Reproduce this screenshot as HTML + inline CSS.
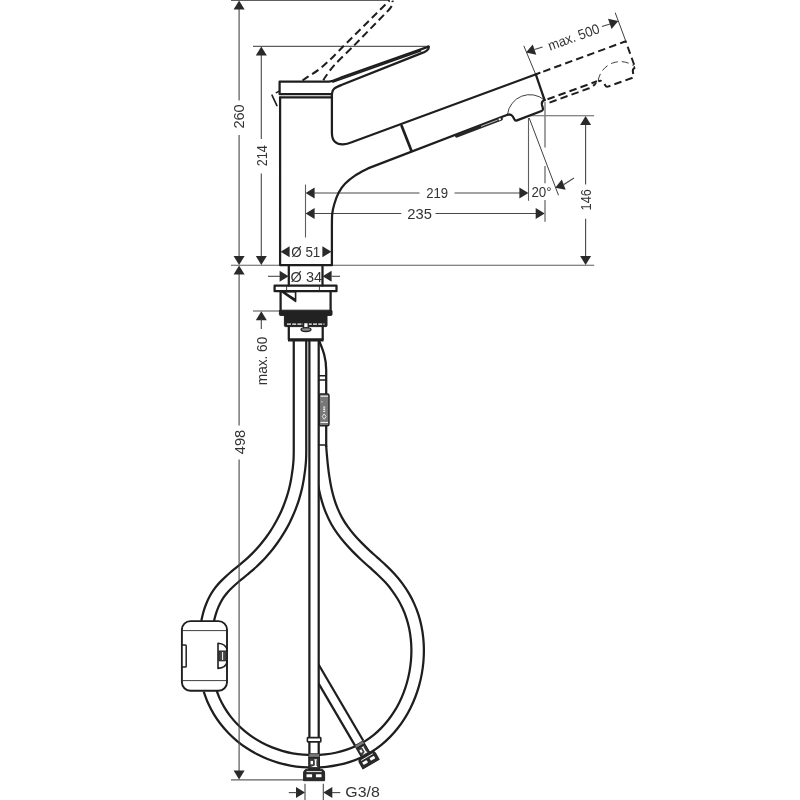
<!DOCTYPE html>
<html lang="en"><head><meta charset="utf-8"><title>Dimensional drawing</title>
<style>
html,body{margin:0;padding:0;background:#fff;}
body{width:800px;height:800px;overflow:hidden;}
svg{display:block;will-change:transform;filter:blur(0.35px);}
text{font-family:"Liberation Sans",sans-serif;fill:#333;}
.o{fill:none;stroke:#1e1e1e;stroke-width:2.25;stroke-linecap:round;stroke-linejoin:round;}
.ow{fill:#fff;stroke:#1e1e1e;stroke-width:1.9;}
.ob{fill:none;stroke:#1e1e1e;stroke-width:2.25;stroke-linecap:butt;stroke-linejoin:round;}
.o2{fill:none;stroke:#1e1e1e;stroke-width:1.6;stroke-linecap:round;stroke-linejoin:round;}
.o3{fill:none;stroke:#1e1e1e;stroke-width:2.7;stroke-linecap:butt;}
.o4{fill:none;stroke:#1e1e1e;stroke-width:3.2;stroke-linecap:butt;}
.d{fill:none;stroke:#484848;stroke-width:1.1;}
.e{fill:none;stroke:#5e5e5e;stroke-width:1.1;}
.e2{fill:none;stroke:#777;stroke-width:1.4;}
.t{fill:none;stroke:#2a2a2a;stroke-width:0.9;}
.a{fill:#2a2a2a;stroke:none;}
.f{fill:#222;stroke:#222;stroke-width:1;stroke-linejoin:round;}
.w{fill:none;stroke:#fff;stroke-width:1;}
.w2{fill:none;stroke:#fff;stroke-width:0.8;}
.wdot{fill:none;stroke:#eee;stroke-width:2;stroke-dasharray:1.3 0.8;}
.wd{fill:none;stroke:#fff;stroke-width:1.1;stroke-dasharray:4 1.2;}
.dash{fill:none;stroke:#1e1e1e;stroke-width:2;stroke-dasharray:7.5 4.2;stroke-linecap:butt;stroke-linejoin:round;}
.tdash{fill:none;stroke:#2a2a2a;stroke-width:0.9;stroke-dasharray:7 4;}
</style></head>
<body>
<svg width="800" height="800" viewBox="0 0 800 800">
<rect x="0" y="0" width="800" height="800" fill="#fff"/>
<path d="M293.75,339.00 L293.75,339.94 L293.75,341.95 L293.75,343.95 L293.75,345.95 L293.75,347.95 L293.75,349.94 L293.75,351.93 L293.75,353.91 L293.75,355.89 L293.75,357.87 L293.75,359.85 L293.75,361.82 L293.75,363.79 L293.75,365.76 L293.75,367.73 L293.75,369.70 L293.75,371.66 L293.75,373.63 L293.75,375.59 L293.75,377.55 L293.75,379.51 L293.75,381.48 L293.75,383.44 L293.75,385.40 L293.75,387.36 L293.75,389.32 L293.75,391.28 L293.75,393.25 L293.75,395.21 L293.75,397.17 L293.75,399.14 L293.75,401.11 L293.75,403.08 L293.75,405.05 L293.75,407.02 L293.75,409.00 L293.75,410.98 L293.75,412.96 L293.75,414.95 L293.75,416.93 L293.75,418.92 L293.75,420.91 L293.75,422.90 L293.75,424.89 L293.75,426.88 L293.75,428.88 L293.75,430.87 L293.75,432.87 L293.75,434.86 L293.75,436.85 L293.75,438.85 L293.75,440.85 L293.75,442.85 L293.76,444.84 L293.76,446.83 L293.77,448.80 L293.76,450.76 L293.75,452.70 L293.71,454.63 L293.66,456.54 L293.59,458.44 L293.49,460.32 L293.36,462.20 L293.20,464.06 L293.01,465.93 L292.79,467.81 L292.54,469.70 L292.27,471.61 L291.99,473.55 L291.71,475.45 L291.42,477.32 L291.10,479.18 L290.76,481.03 L290.40,482.87 L290.01,484.71 L289.59,486.54 L289.15,488.36 L288.68,490.18 L288.19,491.99 L287.67,493.80 L287.13,495.60 L286.56,497.39 L285.97,499.18 L285.35,500.96 L284.71,502.73 L284.04,504.49 L283.35,506.24 L282.63,507.98 L281.90,509.72 L281.14,511.45 L280.35,513.16 L279.54,514.87 L278.71,516.56 L277.86,518.25 L276.98,519.92 L276.08,521.58 L275.16,523.24 L274.21,524.87 L273.25,526.50 L272.26,528.12 L271.25,529.72 L270.22,531.31 L269.17,532.88 L268.10,534.44 L267.00,535.99 L265.89,537.52 L264.76,539.04 L263.60,540.55 L262.43,542.03 L261.23,543.51 L260.02,544.96 L258.78,546.40 L257.53,547.83 L256.26,549.24 L254.97,550.63 L253.66,552.00 L252.33,553.36 L250.98,554.69 L249.62,556.01 L248.24,557.31 L246.83,558.60 L245.41,559.86 L243.96,561.12 L242.50,562.37 L241.01,563.62 L239.50,564.87 L237.98,566.12 L236.45,567.38 L234.91,568.64 L233.37,569.92 L231.83,571.21 L230.28,572.51 L228.75,573.84 L227.22,575.19 L225.70,576.56 L224.19,577.97 L222.71,579.41 L221.24,580.88 L219.81,582.40 L218.40,583.96 L217.02,585.57 L215.68,587.22 L214.38,588.93 L213.13,590.70 L211.94,592.52 L210.80,594.39 L209.72,596.31 L208.71,598.26 L207.76,600.24 L206.87,602.25 L206.04,604.28 L205.27,606.34 L204.54,608.41 L203.88,610.50 L203.26,612.60 L202.69,614.71 L202.17,616.82 L201.70,618.94 L201.29,620.99 L213.55,623.45 L213.93,621.53 L214.34,619.67 L214.80,617.82 L215.29,615.99 L215.82,614.17 L216.40,612.37 L217.02,610.60 L217.67,608.86 L218.37,607.15 L219.12,605.47 L219.90,603.84 L220.73,602.24 L221.59,600.70 L222.50,599.20 L223.46,597.74 L224.47,596.32 L225.52,594.93 L226.63,593.56 L227.78,592.22 L228.98,590.89 L230.21,589.59 L231.49,588.30 L232.81,587.03 L234.16,585.76 L235.55,584.51 L236.96,583.26 L238.40,582.02 L239.87,580.78 L241.36,579.53 L242.86,578.29 L244.39,577.04 L245.92,575.78 L247.46,574.51 L249.01,573.22 L250.57,571.92 L252.12,570.59 L253.67,569.25 L255.21,567.87 L256.74,566.48 L258.24,565.06 L259.73,563.62 L261.20,562.16 L262.64,560.69 L264.07,559.19 L265.48,557.68 L266.86,556.15 L268.22,554.60 L269.57,553.03 L270.89,551.45 L272.19,549.84 L273.46,548.22 L274.72,546.59 L275.95,544.94 L277.17,543.27 L278.35,541.59 L279.52,539.89 L280.66,538.18 L281.78,536.45 L282.88,534.71 L283.96,532.95 L285.01,531.18 L286.03,529.40 L287.03,527.60 L288.01,525.80 L288.97,523.97 L289.90,522.14 L290.80,520.29 L291.68,518.44 L292.54,516.57 L293.37,514.69 L294.17,512.80 L294.95,510.90 L295.70,508.99 L296.43,507.07 L297.13,505.14 L297.80,503.20 L298.45,501.25 L299.07,499.30 L299.66,497.33 L300.23,495.36 L300.77,493.38 L301.28,491.39 L301.76,489.40 L302.22,487.39 L302.64,485.39 L303.04,483.38 L303.41,481.36 L303.75,479.35 L304.07,477.33 L304.36,475.34 L304.65,473.37 L304.93,471.38 L305.19,469.35 L305.44,467.30 L305.65,465.23 L305.82,463.16 L305.97,461.08 L306.08,459.01 L306.16,456.95 L306.21,454.90 L306.24,452.86 L306.26,450.83 L306.27,448.81 L306.26,446.81 L306.26,444.81 L306.25,442.82 L306.25,440.84 L306.25,438.85 L306.25,436.85 L306.25,434.86 L306.25,432.87 L306.25,430.87 L306.25,428.88 L306.25,426.88 L306.25,424.89 L306.25,422.90 L306.25,420.91 L306.25,418.92 L306.25,416.93 L306.25,414.95 L306.25,412.96 L306.25,410.98 L306.25,409.00 L306.25,407.02 L306.25,405.05 L306.25,403.08 L306.25,401.11 L306.25,399.14 L306.25,397.17 L306.25,395.21 L306.25,393.25 L306.25,391.28 L306.25,389.32 L306.25,387.36 L306.25,385.40 L306.25,383.44 L306.25,381.48 L306.25,379.51 L306.25,377.55 L306.25,375.59 L306.25,373.63 L306.25,371.66 L306.25,369.70 L306.25,367.73 L306.25,365.76 L306.25,363.79 L306.25,361.82 L306.25,359.85 L306.25,357.87 L306.25,355.89 L306.25,353.91 L306.25,351.93 L306.25,349.94 L306.25,347.95 L306.25,345.95 L306.25,343.95 L306.25,341.95 L306.25,339.94 L306.25,339.00 Z" fill="#fff" stroke="none"/><path class="ob" d="M293.75,339.00 C293.75,339.83 293.75,342.13 293.75,343.95 C293.75,345.78 293.75,347.95 293.75,349.94 C293.75,351.93 293.75,353.91 293.75,355.89 C293.75,357.87 293.75,359.85 293.75,361.82 C293.75,363.80 293.75,365.76 293.75,367.73 C293.75,369.70 293.75,371.66 293.75,373.63 C293.75,375.59 293.75,377.55 293.75,379.51 C293.75,381.48 293.75,383.44 293.75,385.40 C293.75,387.36 293.75,389.32 293.75,391.28 C293.75,393.25 293.75,395.21 293.75,397.17 C293.75,399.14 293.75,401.11 293.75,403.08 C293.75,405.05 293.75,407.02 293.75,409.00 C293.75,410.98 293.75,412.96 293.75,414.95 C293.75,416.93 293.75,418.92 293.75,420.91 C293.75,422.90 293.75,424.89 293.75,426.88 C293.75,428.88 293.75,430.87 293.75,432.87 C293.75,434.86 293.75,436.85 293.75,438.85 C293.75,440.85 293.76,442.86 293.76,444.84 C293.76,446.83 293.78,448.81 293.76,450.76 C293.75,452.71 293.73,454.64 293.66,456.54 C293.60,458.45 293.51,460.32 293.36,462.20 C293.21,464.07 293.02,465.91 292.79,467.81 C292.56,469.70 292.27,471.65 291.99,473.55 C291.71,475.44 291.43,477.32 291.10,479.18 C290.77,481.04 290.41,482.88 290.01,484.71 C289.60,486.54 289.16,488.37 288.68,490.18 C288.20,492.00 287.68,493.80 287.13,495.60 C286.57,497.40 285.98,499.18 285.35,500.96 C284.72,502.73 284.05,504.49 283.35,506.24 C282.65,507.99 281.91,509.72 281.14,511.45 C280.36,513.17 279.55,514.87 278.71,516.56 C277.87,518.25 276.99,519.93 276.08,521.58 C275.17,523.24 274.23,524.88 273.25,526.50 C272.27,528.12 271.26,529.73 270.22,531.31 C269.18,532.89 268.11,534.45 267.00,535.99 C265.90,537.53 264.77,539.05 263.60,540.55 C262.44,542.04 261.24,543.52 260.02,544.96 C258.79,546.41 257.54,547.84 256.26,549.24 C254.98,550.63 253.67,552.01 252.33,553.36 C250.99,554.70 249.63,556.02 248.24,557.31 C246.84,558.61 245.42,559.86 243.96,561.12 C242.51,562.38 241.01,563.62 239.50,564.87 C237.99,566.13 236.45,567.37 234.91,568.64 C233.38,569.92 231.82,571.19 230.28,572.51 C228.75,573.83 227.21,575.17 225.70,576.56 C224.19,577.96 222.69,579.38 221.24,580.88 C219.80,582.38 218.37,583.93 217.02,585.57 C215.67,587.20 214.35,588.91 213.13,590.70 C211.92,592.49 210.77,594.38 209.72,596.31 C208.68,598.23 207.74,600.23 206.87,602.25 C206.01,604.27 205.24,606.34 204.54,608.41 C203.85,610.49 203.23,612.61 202.69,614.71 C202.15,616.81 201.52,619.94 201.29,620.99"/><path class="ob" d="M306.25,339.00 C306.25,339.83 306.25,342.13 306.25,343.95 C306.25,345.78 306.25,347.95 306.25,349.94 C306.25,351.93 306.25,353.91 306.25,355.89 C306.25,357.87 306.25,359.85 306.25,361.82 C306.25,363.80 306.25,365.76 306.25,367.73 C306.25,369.70 306.25,371.66 306.25,373.63 C306.25,375.59 306.25,377.55 306.25,379.51 C306.25,381.48 306.25,383.44 306.25,385.40 C306.25,387.36 306.25,389.32 306.25,391.28 C306.25,393.25 306.25,395.21 306.25,397.17 C306.25,399.14 306.25,401.11 306.25,403.08 C306.25,405.05 306.25,407.02 306.25,409.00 C306.25,410.98 306.25,412.96 306.25,414.95 C306.25,416.93 306.25,418.92 306.25,420.91 C306.25,422.90 306.25,424.89 306.25,426.88 C306.25,428.88 306.25,430.87 306.25,432.87 C306.25,434.86 306.25,436.86 306.25,438.85 C306.25,440.84 306.26,442.81 306.26,444.81 C306.26,446.81 306.28,448.81 306.26,450.83 C306.24,452.85 306.23,454.90 306.16,456.95 C306.08,459.01 305.98,461.09 305.82,463.16 C305.66,465.22 305.44,467.32 305.19,469.35 C304.95,471.38 304.66,473.34 304.36,475.34 C304.07,477.34 303.77,479.35 303.41,481.36 C303.05,483.37 302.66,485.39 302.22,487.39 C301.77,489.40 301.29,491.39 300.77,493.38 C300.24,495.36 299.68,497.34 299.07,499.30 C298.46,501.26 297.81,503.21 297.13,505.14 C296.44,507.07 295.71,508.99 294.95,510.90 C294.18,512.80 293.38,514.70 292.54,516.57 C291.69,518.44 290.81,520.30 289.90,522.14 C288.98,523.98 288.03,525.80 287.03,527.60 C286.04,529.41 285.02,531.19 283.96,532.95 C282.89,534.71 281.80,536.46 280.66,538.18 C279.53,539.90 278.37,541.60 277.17,543.27 C275.97,544.95 274.73,546.60 273.46,548.22 C272.20,549.85 270.90,551.45 269.57,553.03 C268.24,554.61 266.87,556.16 265.48,557.68 C264.08,559.20 262.65,560.70 261.20,562.16 C259.74,563.63 258.25,565.07 256.74,566.48 C255.22,567.88 253.67,569.26 252.12,570.59 C250.58,571.93 249.01,573.22 247.46,574.51 C245.92,575.79 244.38,577.04 242.86,578.29 C241.35,579.54 239.85,580.77 238.40,582.02 C236.95,583.26 235.53,584.50 234.16,585.76 C232.80,587.02 231.47,588.29 230.21,589.59 C228.96,590.89 227.75,592.20 226.63,593.56 C225.50,594.92 224.44,596.30 223.46,597.74 C222.48,599.19 221.57,600.68 220.73,602.24 C219.88,603.81 219.10,605.46 218.37,607.15 C217.65,608.84 217.00,610.59 216.40,612.37 C215.80,614.15 215.27,615.98 214.80,617.82 C214.32,619.67 213.75,622.51 213.55,623.45"/>
<path d="M203.72,691.65 L204.48,693.98 L205.31,696.35 L206.20,698.69 L207.14,701.00 L208.13,703.27 L209.17,705.50 L210.25,707.71 L211.39,709.87 L212.57,712.00 L213.80,714.10 L215.07,716.16 L216.39,718.18 L217.75,720.17 L219.15,722.12 L220.59,724.03 L222.07,725.90 L223.60,727.74 L225.16,729.54 L226.76,731.30 L228.39,733.02 L230.06,734.70 L231.77,736.34 L233.51,737.95 L235.29,739.51 L237.10,741.04 L238.93,742.52 L240.80,743.97 L242.70,745.37 L244.63,746.73 L246.59,748.05 L248.57,749.33 L250.58,750.57 L252.62,751.77 L254.68,752.93 L256.76,754.04 L258.87,755.11 L261.00,756.14 L263.15,757.13 L265.32,758.08 L267.51,758.98 L269.72,759.84 L271.95,760.65 L274.20,761.42 L276.46,762.15 L278.74,762.83 L281.03,763.47 L283.34,764.07 L285.66,764.62 L288.00,765.12 L290.34,765.58 L292.70,766.00 L295.06,766.37 L297.44,766.69 L299.83,766.97 L302.22,767.20 L304.62,767.38 L307.02,767.52 L309.43,767.61 L311.85,767.65 L314.27,767.65 L316.69,767.60 L319.11,767.50 L321.53,767.35 L323.95,767.16 L326.36,766.91 L328.77,766.62 L331.17,766.28 L333.57,765.90 L335.95,765.46 L338.33,764.97 L340.69,764.44 L343.04,763.86 L345.38,763.23 L347.70,762.54 L350.00,761.81 L352.28,761.03 L354.54,760.20 L356.78,759.32 L359.00,758.39 L361.19,757.40 L363.36,756.37 L365.49,755.29 L367.60,754.15 L369.67,752.96 L371.71,751.72 L373.71,750.44 L375.68,749.11 L377.61,747.73 L379.51,746.31 L381.37,744.85 L383.19,743.34 L384.97,741.79 L386.72,740.20 L388.43,738.57 L390.10,736.90 L391.73,735.20 L393.33,733.46 L394.89,731.68 L396.40,729.87 L397.88,728.03 L399.32,726.15 L400.73,724.24 L402.09,722.30 L403.41,720.34 L404.69,718.34 L405.94,716.31 L407.14,714.26 L408.31,712.19 L409.43,710.09 L410.51,707.96 L411.55,705.81 L412.56,703.64 L413.52,701.45 L414.44,699.24 L415.31,697.01 L416.15,694.76 L416.95,692.49 L417.70,690.20 L418.41,687.90 L419.08,685.59 L419.71,683.26 L420.29,680.92 L420.83,678.57 L421.33,676.20 L421.78,673.83 L422.19,671.45 L422.56,669.06 L422.88,666.66 L423.16,664.26 L423.40,661.85 L423.59,659.44 L423.73,657.03 L423.83,654.62 L423.89,652.21 L423.90,649.79 L423.86,647.38 L423.78,644.98 L423.65,642.57 L423.47,640.17 L423.25,637.78 L422.98,635.40 L422.66,633.02 L422.29,630.65 L421.88,628.29 L421.41,625.95 L420.90,623.62 L420.34,621.30 L419.73,618.99 L419.07,616.70 L418.36,614.43 L417.60,612.17 L416.79,609.94 L415.93,607.73 L415.02,605.54 L414.06,603.38 L413.06,601.24 L412.02,599.12 L410.92,597.03 L409.79,594.96 L408.61,592.92 L407.38,590.90 L406.12,588.91 L404.81,586.95 L403.46,585.01 L402.08,583.10 L400.65,581.22 L399.19,579.36 L397.69,577.54 L396.15,575.74 L394.58,573.97 L392.97,572.23 L391.33,570.52 L389.66,568.85 L387.98,567.21 L386.28,565.60 L384.57,564.02 L382.86,562.46 L381.15,560.91 L379.44,559.39 L377.74,557.87 L376.05,556.36 L374.37,554.86 L372.71,553.35 L371.05,551.83 L369.41,550.32 L367.79,548.79 L366.18,547.26 L364.60,545.73 L363.03,544.18 L361.48,542.63 L359.96,541.06 L358.47,539.49 L357.00,537.90 L355.56,536.30 L354.15,534.68 L352.77,533.06 L351.42,531.41 L350.11,529.75 L348.84,528.08 L347.60,526.38 L346.40,524.67 L345.24,522.94 L344.13,521.18 L343.05,519.41 L342.02,517.61 L341.03,515.79 L340.09,513.93 L339.19,512.05 L338.33,510.14 L337.51,508.19 L336.73,506.22 L335.99,504.22 L335.28,502.19 L334.61,500.14 L333.98,498.07 L333.38,495.97 L332.81,493.86 L332.28,491.72 L331.77,489.57 L331.30,487.41 L330.85,485.23 L330.43,483.04 L330.04,480.84 L329.67,478.63 L329.32,476.41 L329.00,474.19 L328.70,471.97 L328.41,469.74 L328.15,467.51 L327.90,465.29 L327.66,463.07 L327.44,460.85 L327.23,458.64 L327.03,456.44 L326.84,454.25 L326.66,452.07 L326.49,449.90 L326.32,447.75 L326.15,445.61 L313.69,446.57 L313.86,448.72 L314.03,450.89 L314.20,453.09 L314.39,455.30 L314.58,457.54 L314.78,459.79 L315.00,462.06 L315.23,464.35 L315.47,466.65 L315.73,468.96 L316.01,471.28 L316.31,473.60 L316.62,475.94 L316.96,478.28 L317.33,480.62 L317.72,482.97 L318.14,485.31 L318.59,487.66 L319.07,490.00 L319.58,492.34 L320.13,494.67 L320.71,496.99 L321.33,499.31 L321.99,501.61 L322.69,503.91 L323.44,506.19 L324.22,508.45 L325.06,510.70 L325.94,512.92 L326.87,515.13 L327.85,517.31 L328.88,519.47 L329.97,521.60 L331.10,523.69 L332.28,525.75 L333.51,527.78 L334.78,529.77 L336.09,531.73 L337.43,533.65 L338.82,535.55 L340.23,537.41 L341.68,539.25 L343.16,541.05 L344.67,542.84 L346.21,544.59 L347.76,546.32 L349.35,548.03 L350.95,549.72 L352.57,551.39 L354.21,553.04 L355.86,554.67 L357.53,556.28 L359.21,557.88 L360.89,559.46 L362.59,561.03 L364.29,562.59 L366.00,564.14 L367.71,565.67 L369.42,567.20 L371.12,568.71 L372.80,570.22 L374.47,571.72 L376.11,573.22 L377.73,574.72 L379.32,576.23 L380.87,577.74 L382.39,579.26 L383.87,580.81 L385.32,582.37 L386.73,583.96 L388.11,585.57 L389.45,587.20 L390.76,588.86 L392.04,590.55 L393.27,592.25 L394.48,593.98 L395.64,595.73 L396.76,597.50 L397.85,599.29 L398.90,601.10 L399.91,602.93 L400.87,604.79 L401.80,606.66 L402.69,608.55 L403.53,610.46 L404.33,612.39 L405.09,614.34 L405.80,616.31 L406.47,618.29 L407.10,620.30 L407.68,622.32 L408.22,624.36 L408.72,626.42 L409.18,628.50 L409.59,630.59 L409.96,632.69 L410.29,634.80 L410.57,636.93 L410.81,639.07 L411.01,641.21 L411.17,643.37 L411.29,645.53 L411.36,647.70 L411.40,649.87 L411.39,652.04 L411.34,654.22 L411.25,656.40 L411.12,658.58 L410.94,660.75 L410.73,662.93 L410.48,665.10 L410.19,667.27 L409.86,669.43 L409.48,671.59 L409.07,673.74 L408.62,675.88 L408.13,678.01 L407.60,680.13 L407.04,682.23 L406.43,684.32 L405.79,686.40 L405.11,688.46 L404.39,690.51 L403.64,692.54 L402.85,694.55 L402.02,696.54 L401.16,698.51 L400.26,700.46 L399.32,702.39 L398.35,704.30 L397.34,706.19 L396.30,708.04 L395.22,709.88 L394.11,711.69 L392.97,713.47 L391.79,715.22 L390.57,716.95 L389.33,718.64 L388.05,720.31 L386.74,721.94 L385.40,723.55 L384.02,725.12 L382.61,726.65 L381.17,728.15 L379.70,729.62 L378.20,731.05 L376.67,732.45 L375.11,733.80 L373.51,735.12 L371.89,736.40 L370.23,737.64 L368.55,738.84 L366.84,740.00 L365.10,741.12 L363.33,742.19 L361.52,743.22 L359.69,744.21 L357.83,745.16 L355.94,746.06 L354.02,746.92 L352.07,747.74 L350.10,748.52 L348.10,749.25 L346.08,749.94 L344.04,750.59 L341.98,751.20 L339.91,751.76 L337.81,752.28 L335.70,752.75 L333.58,753.19 L331.45,753.58 L329.30,753.92 L327.15,754.23 L324.98,754.49 L322.82,754.71 L320.65,754.88 L318.47,755.02 L316.30,755.10 L314.12,755.15 L311.95,755.15 L309.78,755.12 L307.61,755.03 L305.45,754.91 L303.30,754.74 L301.15,754.54 L299.01,754.29 L296.87,754.00 L294.75,753.67 L292.63,753.29 L290.52,752.88 L288.43,752.43 L286.34,751.93 L284.27,751.40 L282.21,750.83 L280.17,750.21 L278.14,749.56 L276.13,748.87 L274.13,748.14 L272.15,747.37 L270.19,746.56 L268.25,745.72 L266.33,744.84 L264.42,743.92 L262.54,742.96 L260.68,741.96 L258.85,740.93 L257.03,739.87 L255.24,738.76 L253.48,737.62 L251.74,736.45 L250.02,735.24 L248.34,733.99 L246.68,732.71 L245.05,731.40 L243.45,730.05 L241.88,728.66 L240.34,727.24 L238.83,725.79 L237.36,724.31 L235.91,722.79 L234.50,721.24 L233.13,719.65 L231.79,718.03 L230.48,716.39 L229.21,714.70 L227.98,712.99 L226.78,711.24 L225.63,709.47 L224.51,707.66 L223.43,705.82 L222.39,703.94 L221.40,702.04 L220.44,700.11 L219.53,698.14 L218.66,696.15 L217.84,694.12 L217.05,692.06 L216.32,689.97 L215.61,687.78 Z" fill="#fff" stroke="none"/><path class="ob" d="M203.72,691.65 C204.45,693.59 206.45,699.53 208.13,703.27 C209.81,707.01 211.72,710.64 213.80,714.10 C215.87,717.56 218.16,720.88 220.59,724.03 C223.02,727.18 225.64,730.18 228.39,733.02 C231.14,735.85 234.06,738.53 237.10,741.04 C240.13,743.54 243.31,745.89 246.59,748.05 C249.87,750.22 253.27,752.22 256.76,754.04 C260.25,755.86 263.85,757.51 267.51,758.98 C271.18,760.44 274.94,761.73 278.74,762.83 C282.55,763.93 286.43,764.86 290.34,765.58 C294.25,766.31 298.23,766.85 302.22,767.20 C306.20,767.54 310.24,767.70 314.27,767.65 C318.29,767.60 322.35,767.36 326.36,766.91 C330.37,766.47 334.39,765.82 338.33,764.97 C342.27,764.12 346.19,763.07 350.00,761.81 C353.81,760.55 357.57,759.09 361.19,757.40 C364.81,755.72 368.35,753.82 371.71,751.72 C375.07,749.63 378.30,747.32 381.37,744.85 C384.43,742.38 387.35,739.71 390.10,736.90 C392.85,734.10 395.45,731.12 397.88,728.03 C400.32,724.93 402.59,721.68 404.69,718.34 C406.80,714.99 408.74,711.52 410.51,707.96 C412.28,704.40 413.89,700.73 415.31,697.01 C416.74,693.28 418.00,689.45 419.08,685.59 C420.16,681.73 421.06,677.78 421.78,673.83 C422.50,669.87 423.04,665.86 423.40,661.85 C423.75,657.85 423.92,653.81 423.90,649.79 C423.87,645.78 423.66,641.76 423.25,637.78 C422.83,633.81 422.23,629.84 421.41,625.95 C420.60,622.06 419.58,618.19 418.36,614.43 C417.14,610.67 415.69,606.96 414.06,603.38 C412.44,599.79 410.60,596.30 408.61,592.92 C406.61,589.54 404.42,586.26 402.08,583.10 C399.74,579.94 397.21,576.89 394.58,573.97 C391.94,571.05 389.08,568.28 386.28,565.60 C383.47,562.92 380.55,560.42 377.74,557.87 C374.93,555.32 372.12,552.86 369.41,550.32 C366.70,547.78 364.03,545.23 361.48,542.63 C358.94,540.02 356.46,537.39 354.15,534.68 C351.83,531.98 349.62,529.23 347.60,526.38 C345.58,523.54 343.70,520.64 342.02,517.61 C340.34,514.58 338.85,511.45 337.51,508.19 C336.17,504.93 335.01,501.53 333.98,498.07 C332.94,494.60 332.07,491.02 331.30,487.41 C330.52,483.80 329.89,480.10 329.32,476.41 C328.76,472.73 328.31,468.98 327.90,465.29 C327.48,461.60 327.13,457.53 326.84,454.25 C326.55,450.97 326.27,447.05 326.15,445.61"/><path class="ob" d="M215.61,687.78 C216.26,689.51 218.05,694.83 219.53,698.14 C221.01,701.45 222.68,704.62 224.51,707.66 C226.33,710.70 228.34,713.61 230.48,716.39 C232.62,719.16 234.93,721.80 237.36,724.31 C239.78,726.81 242.36,729.18 245.05,731.40 C247.74,733.62 250.56,735.70 253.48,737.62 C256.39,739.55 259.43,741.33 262.54,742.96 C265.66,744.58 268.87,746.06 272.15,747.37 C275.43,748.68 278.80,749.84 282.21,750.83 C285.63,751.81 289.11,752.64 292.63,753.29 C296.14,753.95 299.71,754.44 303.30,754.74 C306.88,755.05 310.51,755.19 314.12,755.15 C317.74,755.11 321.39,754.89 324.98,754.49 C328.58,754.09 332.19,753.51 335.70,752.75 C339.22,752.00 342.71,751.06 346.08,749.94 C349.46,748.83 352.77,747.53 355.94,746.06 C359.11,744.59 362.17,742.94 365.10,741.12 C368.03,739.30 370.83,737.28 373.51,735.12 C376.19,732.96 378.75,730.62 381.17,728.15 C383.60,725.69 385.89,723.05 388.05,720.31 C390.21,717.56 392.23,714.67 394.11,711.69 C395.99,708.70 397.73,705.59 399.32,702.39 C400.91,699.20 402.35,695.90 403.64,692.54 C404.93,689.18 406.06,685.72 407.04,682.23 C408.01,678.74 408.83,675.17 409.48,671.59 C410.13,668.01 410.63,664.38 410.94,660.75 C411.26,657.13 411.42,653.48 411.40,649.87 C411.37,646.25 411.18,642.63 410.81,639.07 C410.44,635.51 409.90,631.96 409.18,628.50 C408.45,625.04 407.55,621.62 406.47,618.29 C405.39,614.97 404.12,611.72 402.69,608.55 C401.25,605.38 399.63,602.29 397.85,599.29 C396.08,596.29 394.13,593.37 392.04,590.55 C389.95,587.73 387.70,585.01 385.32,582.37 C382.93,579.73 380.38,577.25 377.73,574.72 C375.08,572.19 372.22,569.74 369.42,567.20 C366.61,564.66 363.70,562.10 360.89,559.46 C358.09,556.83 355.27,554.16 352.57,551.39 C349.86,548.62 347.19,545.79 344.67,542.84 C342.15,539.88 339.69,536.84 337.43,533.65 C335.17,530.46 333.02,527.15 331.10,523.69 C329.19,520.24 327.46,516.60 325.94,512.92 C324.42,509.24 323.14,505.44 321.99,501.61 C320.84,497.79 319.91,493.89 319.07,490.00 C318.23,486.11 317.56,482.17 316.96,478.28 C316.36,474.38 315.90,470.48 315.47,466.65 C315.04,462.82 314.69,458.65 314.39,455.30 C314.09,451.96 313.81,448.03 313.69,446.57"/>
<path class="ob" d="M319.2,341 C323,350 326.2,358 326.2,370 L326.2,447"/>
<path class="o2" d="M319,375.8 L326.3,375.8 M319,380 L326.3,380 M319,445 L326.3,445"/>
<rect x="319" y="394" width="10" height="31.8" rx="1.5" fill="#777" stroke="#222" stroke-width="1.4"/>
<path class="w" d="M320.5,396.2 L328,396.2 M320.5,422.4 L328,422.4"/>
<path class="w2" d="M322.3,416.6 L324.2,413.9 L326.1,416.6 L324.2,419.3 Z"/>
<path class="wdot" d="M324.2,406.5 L324.2,412.6"/>
<path class="w" d="M321.3,401.8 L322.4,401.8"/>
<path d="M309.86,668.58 L355.06,745.63 L363.34,740.77 L318.14,663.72 Z" fill="#fff" stroke="none"/><path class="ob" d="M309.86,668.58 L355.06,745.63"/><path class="ob" d="M318.14,663.72 L363.34,740.77"/>
<path d="M309.40,339.00 L309.40,754.00 L318.70,754.00 L318.70,339.00 Z" fill="#fff" stroke="none"/><path class="ob" d="M309.40,339.00 L309.40,754.00"/><path class="ob" d="M318.70,339.00 L318.70,754.00"/>
<line class="e" x1="231.00" y1="0.40" x2="390.00" y2="0.40"/>
<line class="e" x1="231.00" y1="265.20" x2="594.20" y2="265.20"/>
<line class="e" x1="253.00" y1="46.40" x2="428.00" y2="46.40"/>
<line class="e" x1="253.00" y1="311.00" x2="280.00" y2="311.00"/>
<line class="e" x1="231.00" y1="779.90" x2="304.00" y2="779.90"/>
<line class="e" x1="528.50" y1="115.80" x2="594.20" y2="115.80"/>
<line class="d" x1="239.10" y1="8.00" x2="239.10" y2="100.50"/>
<line class="d" x1="239.10" y1="135.00" x2="239.10" y2="257.00"/>
<polygon class="a" points="239.10,0.40 244.60,9.40 233.60,9.40"/>
<polygon class="a" points="239.10,265.00 233.60,256.00 244.60,256.00"/>
<text transform="translate(239.40,116.50) rotate(-90.00)" y="5.01" text-anchor="middle" font-size="14.00" textLength="24.20" lengthAdjust="spacingAndGlyphs">260</text>
<line class="d" x1="239.10" y1="273.00" x2="239.10" y2="425.50"/>
<line class="d" x1="239.10" y1="459.50" x2="239.10" y2="771.50"/>
<polygon class="a" points="239.10,265.40 244.60,274.40 233.60,274.40"/>
<polygon class="a" points="239.10,779.60 233.60,770.60 244.60,770.60"/>
<text transform="translate(239.50,442.00) rotate(-90.00)" y="5.01" text-anchor="middle" font-size="14.00" textLength="24.40" lengthAdjust="spacingAndGlyphs">498</text>
<line class="d" x1="261.30" y1="55.00" x2="261.30" y2="139.00"/>
<line class="d" x1="261.30" y1="173.50" x2="261.30" y2="257.00"/>
<polygon class="a" points="261.30,46.60 266.80,55.60 255.80,55.60"/>
<polygon class="a" points="261.30,265.00 255.80,256.00 266.80,256.00"/>
<text transform="translate(261.60,155.80) rotate(-90.00)" y="5.01" text-anchor="middle" font-size="14.00" textLength="21.00" lengthAdjust="spacingAndGlyphs">214</text>
<polygon class="a" points="261.30,311.20 266.80,320.20 255.80,320.20"/>
<line class="d" x1="261.30" y1="319.00" x2="261.30" y2="329.00"/>
<text transform="translate(261.80,361.00) rotate(-90.00)" y="5.01" text-anchor="middle" font-size="14.00" textLength="48.40" lengthAdjust="spacingAndGlyphs">max. 60</text>
<line class="e" x1="305.50" y1="184.50" x2="305.50" y2="237.50"/>
<polygon class="a" points="305.60,193.00 314.60,187.50 314.60,198.50"/>
<polygon class="a" points="305.60,213.50 314.60,208.00 314.60,219.00"/>
<line class="d" x1="314.00" y1="193.00" x2="419.50" y2="193.00"/>
<line class="d" x1="454.50" y1="193.00" x2="520.00" y2="193.00"/>
<polygon class="a" points="528.40,193.00 519.40,198.50 519.40,187.50"/>
<line class="d" x1="314.00" y1="213.50" x2="401.30" y2="213.50"/>
<line class="d" x1="435.50" y1="213.50" x2="536.00" y2="213.50"/>
<polygon class="a" points="544.70,213.50 535.70,219.00 535.70,208.00"/>
<text transform="translate(437.20,193.00)" y="5.01" text-anchor="middle" font-size="14.00" textLength="21.90" lengthAdjust="spacingAndGlyphs">219</text>
<text transform="translate(419.60,213.50)" y="5.01" text-anchor="middle" font-size="14.00" textLength="24.60" lengthAdjust="spacingAndGlyphs">235</text>
<line class="e" x1="528.50" y1="118.00" x2="528.50" y2="200.80"/>
<line class="e2" x1="545.00" y1="102.00" x2="545.00" y2="147.50"/>
<line class="e2" x1="545.00" y1="166.00" x2="545.00" y2="183.30"/>
<line class="e2" x1="545.00" y1="200.00" x2="545.00" y2="221.80"/>
<line class="t" x1="529.20" y1="118.00" x2="558.50" y2="195.30"/>
<polygon class="a" points="555.30,187.70 561.80,179.40 565.66,189.70"/>
<line class="d" x1="563.50" y1="184.80" x2="574.00" y2="178.00"/>
<text transform="translate(541.50,192.10)" y="5.37" text-anchor="middle" font-size="15.00" textLength="20.20" lengthAdjust="spacingAndGlyphs">20°</text>
<line class="d" x1="585.60" y1="124.00" x2="585.60" y2="184.60"/>
<line class="d" x1="585.60" y1="218.80" x2="585.60" y2="257.00"/>
<polygon class="a" points="585.60,116.00 591.10,125.00 580.10,125.00"/>
<polygon class="a" points="585.60,265.00 580.10,256.00 591.10,256.00"/>
<text transform="translate(586.00,199.80) rotate(-90.00)" y="5.01" text-anchor="middle" font-size="14.00" textLength="21.20" lengthAdjust="spacingAndGlyphs">146</text>
<polygon class="a" points="280.60,251.70 289.60,246.20 289.60,257.20"/>
<polygon class="a" points="331.40,251.70 322.40,257.20 322.40,246.20"/>
<text transform="translate(305.80,251.90)" y="5.01" text-anchor="middle" font-size="14.00" textLength="29.00" lengthAdjust="spacingAndGlyphs">Ø 51</text>
<polygon class="a" points="288.60,276.30 279.60,281.80 279.60,270.80"/>
<polygon class="a" points="322.60,276.30 331.60,270.80 331.60,281.80"/>
<line class="d" x1="268.00" y1="276.30" x2="280.00" y2="276.30"/>
<line class="d" x1="331.50" y1="276.30" x2="340.00" y2="276.30"/>
<text transform="translate(306.30,276.60)" y="5.01" text-anchor="middle" font-size="14.00" textLength="31.40" lengthAdjust="spacingAndGlyphs">Ø 34</text>
<line class="d" x1="305.00" y1="783.80" x2="305.00" y2="800.00"/>
<line class="d" x1="323.30" y1="783.80" x2="323.30" y2="800.00"/>
<polygon class="a" points="305.00,792.60 296.00,798.10 296.00,787.10"/>
<polygon class="a" points="323.30,792.60 332.30,787.10 332.30,798.10"/>
<line class="d" x1="288.80" y1="792.60" x2="296.50" y2="792.60"/>
<line class="d" x1="332.00" y1="792.60" x2="340.30" y2="792.60"/>
<text transform="translate(362.50,791.90)" y="5.01" text-anchor="middle" font-size="14.00" textLength="34.40" lengthAdjust="spacingAndGlyphs">G3/8</text>
<line class="t" x1="523.80" y1="45.80" x2="535.60" y2="74.20"/>
<line class="t" x1="615.20" y1="12.70" x2="625.60" y2="40.60"/>
<polygon class="a" points="526.00,52.50 532.73,44.38 536.30,54.79"/>
<polygon class="a" points="618.30,21.00 611.57,29.12 608.00,18.71"/>
<line class="d" x1="534.50" y1="49.60" x2="542.60" y2="46.90"/>
<line class="d" x1="602.00" y1="26.60" x2="610.00" y2="23.90"/>
<text transform="translate(573.60,36.90) rotate(-19.80)" y="5.01" text-anchor="middle" font-size="14.00" textLength="53.90" lengthAdjust="spacingAndGlyphs">max. 500</text>
<path class="o" d="M280.1,97.5 L280.1,265.2 L331.9,265.2 L331.9,226 C331.96,223.96 331.83,217.46 332.25,213.75 C332.67,210.04 333.32,207.29 334.40,203.75 C335.48,200.21 336.98,195.83 338.75,192.50 C340.52,189.17 342.29,186.57 345.00,183.75 C347.71,180.93 351.17,178.16 355.00,175.60 C358.83,173.04 365.83,169.60 368.00,168.40 L507.5,114.8"/>
<path class="o" d="M279.6,94.1 L279.6,81.5 L329,81.5 C334,81.5 337,79 341,77.5 L428.6,46.6"/>
<path class="o" d="M280,94.1 L332,94.1"/>
<path class="o" d="M280,97.4 L332,97.4"/>
<path class="o2" d="M333,82.1 L420.5,50.9"/>
<path class="o" d="M428.6,46.6 C429.4,49.4 426,51.6 421,53.4 L342,84.8 C336,87.2 332,88.5 331.9,94 L331.9,133 C332,141 336,144.6 343,144.4 C347,144.3 350,143 353,141.8 L539.4,73"/>
<path class="o3" d="M401.3,125 L411.9,151.9"/>
<path class="o" d="M535.8,74.4 L544.6,100.2"/>
<path class="o" d="M507.5,114.8 C510,114 511.5,114.5 512.8,116.5 L514.5,119.5 C515,120.6 516,120.8 517,120.4 L541.5,111 C543,110.4 543.2,109.5 542.8,108 L542,105 C541.5,102.5 542.5,100.6 544.6,100"/>
<path class="t" d="M507.5,114.5 A22.5,22.5 0 0 1 544.4,100"/>
<path d="M456.6,136 L501.3,118.9" fill="none" stroke="#262626" stroke-width="3.3" stroke-linecap="round"/>
<path d="M481,126.4 L497.6,120" fill="none" stroke="#e8e8e8" stroke-width="0.8"/>
<rect x="498.6" y="118.4" width="2.2" height="1.8" fill="#fff" transform="rotate(-20.9 499.7 119.3)"/>
<path class="o2" d="M272,95.2 L276.9,105.6"/>
<path class="o2" d="M276.4,92.6 L278.8,91.4"/>
<path class="dash" d="M302.50,80.50 C303.42,79.85 305.29,78.42 308.00,76.60 C310.71,74.78 315.08,72.40 318.75,69.60 C322.42,66.80 325.94,63.65 330.00,59.80 C334.06,55.95 340.92,48.72 343.10,46.50 L389.4,0.6"/>
<path class="dash" d="M323.30,80.30 C323.75,79.58 324.05,78.65 326.00,76.00 C327.95,73.35 330.48,69.32 335.00,64.40 C339.52,59.48 350.08,49.48 353.10,46.50 L388.5,10.2 C391.6,7 393.4,4 392.4,0.6"/>
<path class="dash" d="M539.4,73 L625.7,41.3 L635.1,67.4" stroke-dashoffset="7.6"/>
<path class="dash" d="M635.1,67.4 C633,68.6 632.4,70 632.9,72 L633.5,75 C633.9,76.5 633.4,77.3 631.9,78 L608,86.6 C606.5,87 605.8,86.5 605.2,85.3 L603.6,82.4 C602.5,80.6 600.5,80.3 598.2,81.2"/>
<path class="dash" d="M547.5,99.3 L597,81.3"/>
<path class="dash" d="M549.5,102.6 L589,88.3 C592,87 594,85.5 596,83"/>
<path class="tdash" d="M598.2,80.5 A22.5,22.5 0 0 1 635,67"/>
<path class="o" d="M288.8,265.2 L288.8,285.6 M322.5,265.2 L322.5,285.6"/>
<rect class="o" x="274.6" y="285.7" width="61.9" height="5.5"/>
<path class="t" d="M286.6,286 L286.6,291 M319.4,286 L319.4,291"/>
<path class="o" d="M280.6,291.2 L280.6,310.6 M330.6,291.2 L330.6,310.6"/>
<path class="o2" d="M282,291.8 L295.6,291.8 L295.6,301.4 Z M283.5,291.8 L295.6,299.6"/>
<rect class="f" x="279.4" y="310.2" width="52.6" height="5.2" rx="0.8"/>
<rect class="f" x="284.4" y="315" width="42.6" height="11.6" rx="1"/>
<path class="wd" d="M287,324.1 L324.5,324.1"/>
<path class="o" d="M288.8,326 L288.8,339.6 M322.7,326 L322.7,339.6"/>
<path class="o4" d="M288,339.8 L323.5,339.8"/>
<rect x="303.6" y="322.6" width="4.6" height="6" fill="#fff" stroke="#222" stroke-width="1.3"/>
<ellipse cx="306" cy="329.6" rx="5" ry="1.9" fill="#888" stroke="#222" stroke-width="1.3"/>
<rect class="ow" x="181.9" y="621.1" width="45.1" height="69.6" rx="8.5"/>
<path class="t" d="M182,630.6 L227,630.6 M182,680.6 L227,680.6"/>
<rect x="182" y="645" width="4.2" height="22" rx="0.8" fill="#fff" stroke="#222" stroke-width="1.5"/>
<path class="o2" d="M218,643.2 L218,668.4 M218,643.2 C223,643.4 226.5,646 227.2,650.5 M218,668.4 C223,668.2 226.5,665.6 227.2,661.2"/>
<rect x="218.8" y="651" width="8" height="9.8" fill="#444" stroke="#222" stroke-width="1"/>
<path class="w" d="M222.6,652 L222.6,660"/>
<rect x="307.4" y="737.6" width="13.4" height="4.3" rx="0.6" fill="#fff" stroke="#222" stroke-width="1.6"/>
<g transform="translate(314.1,753.7)"><rect x="-5.3" y="0" width="10.6" height="3.9" fill="#777" stroke="#2a2a2a" stroke-width="0.8"/><rect x="-5.2" y="3.9" width="10.4" height="11.6" fill="#3a3a3a" stroke="#222" stroke-width="1.4"/><rect x="-3.5" y="7.2" width="2.4" height="3.4" fill="#fff"/><path d="M0.1,5.6 L2.9,5.6 L2.3,7 L2.3,11.8 L3.2,13.4 L-3.2,13.4 L0.7,11.8 L0.7,7 Z" fill="#fff"/><path d="M-10.5,27 L-10.5,19.4 C-10.5,16.8 -9,15.5 -6.6,15.5 L6.6,15.5 C9,15.5 10.5,16.8 10.5,19.4 L10.5,27 Z" fill="#2a2a2a" stroke="#222" stroke-width="1" stroke-linejoin="round"/><path d="M-7.6,17.9 L7.6,17.9" stroke="#fff" stroke-width="0.9" fill="none"/><rect x="-7.6" y="20.5" width="5.6" height="3.1" rx="0.5" fill="#fff"/><rect x="1.8" y="20.5" width="5.6" height="3.1" rx="0.5" fill="#fff"/></g>
<g transform="translate(358.8,743.2) rotate(-30.4) scale(0.9)"><rect x="-5.3" y="0" width="10.6" height="3.9" fill="#777" stroke="#2a2a2a" stroke-width="0.8"/><rect x="-5.2" y="3.9" width="10.4" height="11.6" fill="#3a3a3a" stroke="#222" stroke-width="1.4"/><rect x="-3.5" y="7.2" width="2.4" height="3.4" fill="#fff"/><path d="M0.1,5.6 L2.9,5.6 L2.3,7 L2.3,11.8 L3.2,13.4 L-3.2,13.4 L0.7,11.8 L0.7,7 Z" fill="#fff"/><path d="M-10.5,27 L-10.5,19.4 C-10.5,16.8 -9,15.5 -6.6,15.5 L6.6,15.5 C9,15.5 10.5,16.8 10.5,19.4 L10.5,27 Z" fill="#2a2a2a" stroke="#222" stroke-width="1" stroke-linejoin="round"/><path d="M-7.6,17.9 L7.6,17.9" stroke="#fff" stroke-width="0.9" fill="none"/><rect x="-7.6" y="20.5" width="5.6" height="3.1" rx="0.5" fill="#fff"/><rect x="1.8" y="20.5" width="5.6" height="3.1" rx="0.5" fill="#fff"/></g>
</svg>
</body></html>
